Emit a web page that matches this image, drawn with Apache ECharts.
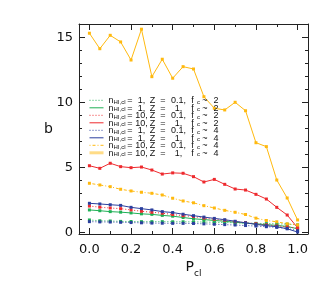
<!DOCTYPE html>
<html><head><meta charset="utf-8">
<script src="https://cdn.jsdelivr.net/npm/echarts@6/dist/echarts.min.js"></script>
<style>html,body{margin:0;padding:0;background:#fff}#c{width:332px;height:285px}</style>
</head><body><div id="c"></div>
<script>
// x values (P_cl)
const pcl = [0,0.05,0.1,0.15,0.2,0.25,0.3,0.35,0.4,0.45,0.5,0.55,0.6,0.65,0.7,0.75,0.8,0.85,0.9,0.95,1.0];
// series values (b)
const greenDot   = [0.98,0.92,0.90,0.87,0.86,0.85,0.85,0.85,0.84,0.84,0.83,0.82,0.80,0.78,0.76,0.74,0.72,0.70,0.68,0.66,0.60];
const greenSolid = [1.75,1.69,1.62,1.58,1.52,1.45,1.41,1.33,1.27,1.17,1.07,1.01,0.94,0.88,0.80,0.74,0.67,0.62,0.56,0.48,0.30];
const redDot     = [2.05,1.96,1.90,1.85,1.75,1.65,1.57,1.50,1.40,1.31,1.24,1.12,1.03,0.95,0.85,0.77,0.69,0.60,0.52,0.45,0.34];
const redSolid   = [5.15,4.95,5.34,5.08,5.00,5.05,4.82,4.51,4.60,4.57,4.31,3.90,4.10,3.72,3.36,3.28,2.95,2.59,1.95,1.36,0.38];
const blueDot    = [0.85,0.83,0.82,0.80,0.78,0.76,0.74,0.73,0.72,0.72,0.71,0.68,0.65,0.62,0.59,0.55,0.51,0.46,0.41,0.33,0.15];
const blueSolid  = [2.26,2.21,2.15,2.10,1.95,1.85,1.75,1.62,1.55,1.42,1.31,1.20,1.10,1.00,0.88,0.76,0.64,0.54,0.46,0.30,0.05];
const yellowDot  = [3.80,3.67,3.54,3.34,3.21,3.11,3.03,2.90,2.65,2.44,2.30,2.08,1.90,1.72,1.57,1.40,1.12,0.94,0.84,0.68,0.60];
const yellowSolid= [15.34,14.15,15.18,14.67,13.28,15.65,12.00,13.34,11.88,12.77,12.59,10.46,9.57,9.44,10.03,9.38,6.92,6.62,4.05,2.67,0.98];
// legend labels
const legN = ['1','1','10','10','1','1','10','10'];
const legZ = ['0.1','1','0.1','1','0.1','1','0.1','1'];
const legF = ['2','2','2','2','4','4','4','4'];
// tick labels
const xMajor = [0,0.2,0.4,0.6,0.8,1.0];
const xMinor = [0.1,0.3,0.5,0.7,0.9];
const yMajor = [0,5,10,15];
const yMinor = [1,2,3,4,6,7,8,9,11,12,13,14,16];

const seriesData = [greenDot, greenSolid, redDot, redSolid, blueDot, blueSolid, yellowDot, yellowSolid];
const colors = ['#1fb055','#1fb055','#ee2a2e','#ee2a2e','#2b3f9e','#2b3f9e','#ffb90f','#ffb90f'];
const dashes = [[1,2],'solid',[1,2],'solid',[1,2],'solid',[1,2,3,2],'solid'];
const names = seriesData.map((_, i) => 's' + i);

const chart = echarts.init(document.getElementById('c'), null, {renderer: 'canvas'});
const axColor = '#222';
const XMIN = -0.05, XMAX = 1.05, YMIN = -0.1, YMAX = 16.05;
function xAx(pos, grid, vals, len, labels) {
  return {
    type: 'value', gridIndex: grid, position: pos, min: XMIN, max: XMAX,
    axisLine: {show: grid === 0, onZero: false, lineStyle: {color: axColor, width: 1}},
    axisTick: {show: true, inside: true, length: len, customValues: vals, lineStyle: {color: axColor}},
    axisLabel: labels ? {show: true, customValues: vals, margin: 9, color: '#111', fontFamily: 'DejaVu Sans', fontSize: 13,
      formatter: v => v.toFixed(1)} : {show: false},
    splitLine: {show: false}
  };
}
function yAx(pos, grid, vals, len, labels) {
  return {
    type: 'value', gridIndex: grid, position: pos, min: YMIN, max: YMAX,
    axisLine: {show: grid === 0, onZero: false, lineStyle: {color: axColor, width: 1}},
    axisTick: {show: true, inside: true, length: len, customValues: vals, lineStyle: {color: axColor}},
    axisLabel: labels ? {show: true, customValues: vals, margin: 6, color: '#111', fontFamily: 'DejaVu Sans', fontSize: 13,
      formatter: v => String(Math.round(v))} : {show: false},
    splitLine: {show: false}
  };
}
const xAxes = [xAx('bottom',0,xMajor,6,true), xAx('top',0,xMajor,6,false), xAx('bottom',1,xMinor,3,false), xAx('top',1,xMinor,3,false)];
const yAxes = [yAx('left',0,yMajor,6,true), yAx('right',0,yMajor,6,false), yAx('left',1,yMinor,3,false), yAx('right',1,yMinor,3,false)];
xAxes[0].name = '{p|P}{s|cl}';
xAxes[0].nameLocation = 'middle';
xAxes[0].nameGap = 26;
xAxes[0].nameMoveOverlap = false;
xAxes[0].nameTextStyle = {rich: {
  p: {fontFamily: 'DejaVu Sans', fontSize: 14, color: '#111', padding: [0,0,4,0], verticalAlign: 'bottom'},
  s: {fontFamily: 'DejaVu Sans', fontSize: 9, color: '#111', verticalAlign: 'bottom'}
}};
yAxes[0].name = 'b';
yAxes[0].nameLocation = 'middle';
yAxes[0].nameGap = 26;
yAxes[0].nameMoveOverlap = false;
yAxes[0].nameRotate = 0;
yAxes[0].nameTextStyle = {fontFamily: 'DejaVu Sans', fontSize: 14, color: '#111'};

const FS = 'Liberation Sans';
const richBase = {fontFamily: FS, fontSize: 9, color: '#111', lineHeight: 10, verticalAlign: 'bottom'};
const subBase = {fontFamily: FS, fontSize: 6, color: '#111', lineHeight: 5, padding: [5,0,0,0], verticalAlign: 'bottom'};
const rich = {
  n: Object.assign({}, richBase, {width: 5}),
  s: Object.assign({}, subBase, {width: 11}),
  c: Object.assign({}, subBase, {width: 4}),
  e: Object.assign({}, richBase, {width: 11, align: 'center'}),
  a: Object.assign({}, richBase, {width: 12, align: 'right'}),
  z: Object.assign({}, richBase, {width: 10, align: 'right'}),
  v: Object.assign({}, richBase, {width: 20, align: 'right'}),
  f: Object.assign({}, richBase, {width: 8, align: 'right'}),
  t: Object.assign({}, richBase, {width: 9, align: 'center'}),
  g: Object.assign({}, richBase, {width: 9, align: 'right'})
};

const series = seriesData.map((d, i) => ({
  name: names[i], type: 'line', xAxisIndex: 0, yAxisIndex: 0,
  data: d.map((v, j) => [pcl[j], v]),
  symbol: 'rect', symbolSize: 3,
  lineStyle: {color: colors[i], width: 1, type: dashes[i]},
  itemStyle: {color: colors[i]},
  emphasis: {disabled: true},
  animation: false, z: 3
}));

chart.setOption({
  animation: false,
  grid: [
    {left: 79, right: 24, top: 24, bottom: 51, containLabel: false},
    {left: 79, right: 24, top: 24, bottom: 51, containLabel: false}
  ],
  xAxis: xAxes,
  yAxis: yAxes,
  legend: {
    orient: 'vertical', left: 88, top: 94.3, padding: 0,
    itemWidth: 14, itemHeight: 7, itemGap: -3.5,
    itemStyle: {color: 'rgba(0,0,0,0)', borderColor: 'rgba(0,0,0,0)', borderWidth: 0, opacity: 0},
    lineStyle: {width: 1},
    data: names.map((n, i) => i === 7
      ? {name: n, lineStyle: {width: 3, opacity: 0.5}, itemStyle: {color: 'rgba(0,0,0,0)', opacity: 0}}
      : {name: n, itemStyle: {color: 'rgba(0,0,0,0)', opacity: 0}}),
    selectedMode: false,
    formatter: function (name) {
      const i = names.indexOf(name);
      return '{n|n}{s|HI,cl}{e|=}{a|' + legN[i] + ',}{z|Z}{e|=}{v|' + legZ[i] + ',}{f|f}{c|c}{t|~}{g|' + legF[i] + '}';
    },
    textStyle: {rich: rich}
  },
  series: series
});
</script>
</body></html>
